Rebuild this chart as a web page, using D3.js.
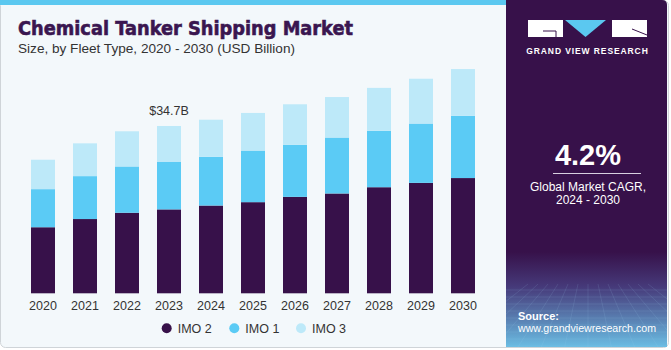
<!DOCTYPE html>
<html>
<head>
<meta charset="utf-8">
<script src="https://cdn.jsdelivr.net/npm/d3@7"></script>
<style>
  html, body { margin: 0; padding: 0; background: #fff; }
  svg { display: block; font-family: "Liberation Sans", Arial, sans-serif; }
</style>
</head>
<body>
<div id="chart"></div>
<script>
// ---- data ----
const years = ["2020","2021","2022","2023","2024","2025","2026","2027","2028","2029","2030"];
const imo2 = [13.7, 15.4, 16.7, 17.4, 18.2, 18.9, 20.0, 20.7, 22.0, 22.9, 23.9];
const imo1 = [7.9, 8.9, 9.6, 9.9, 10.1, 10.7, 10.8, 11.6, 11.7, 12.3, 12.9];
const imo3 = [6.1, 6.8, 7.3, 7.4, 7.7, 7.8, 8.4, 8.4, 8.9, 9.3, 9.7];
const seriesNames = ["IMO 2", "IMO 1", "IMO 3"];
const seriesColors = ["#37114a", "#5bcbf5", "#bde9f9"];
const callout = { year: "2023", text: "$34.7B" };

const W = 671, H = 350;
const svg = d3.select("#chart").append("svg").attr("width", W).attr("height", H);

// background card
svg.append("rect").attr("x", 0.5).attr("y", 0.5).attr("width", 668).attr("height", 347)
  .attr("rx", 5).attr("fill", "#f3f8fb").attr("stroke", "#cfd4d8");
svg.append("rect").attr("x", 0).attr("y", 0).attr("width", 510).attr("height", 5).attr("fill", "#5bc8f0");

// titles
svg.append("text").attr("x", 18).attr("y", 35)
  .attr("font-family", "DejaVu Sans, sans-serif")
  .attr("font-size", 19).attr("font-weight", 700).attr("fill", "#3a1650")
  .attr("stroke", "#3a1650").attr("stroke-width", 0.6)
  .attr("textLength", 335).attr("lengthAdjust", "spacingAndGlyphs")
  .text("Chemical Tanker Shipping Market");
svg.append("text").attr("x", 18).attr("y", 53)
  .attr("font-size", 13).attr("fill", "#333")
  .attr("textLength", 277).attr("lengthAdjust", "spacingAndGlyphs")
  .text("Size, by Fleet Type, 2020 - 2030 (USD Billion)");

// ---- scales ----
const x = d3.scaleBand().domain(years).range([22, 484]).paddingInner(0.4286).paddingOuter(0.2143);
const y = d3.scaleLinear().domain([0, 50]).range([293.3, 52.2]);

const table = years.map((yr, i) => ({ year: yr, "IMO 2": imo2[i], "IMO 1": imo1[i], "IMO 3": imo3[i] }));
const stacked = d3.stack().keys(seriesNames)(table);

const g = svg.append("g");
g.selectAll("g.layer").data(stacked).join("g")
  .attr("class", "layer")
  .attr("fill", (d, i) => seriesColors[i])
  .selectAll("rect").data(d => d).join("rect")
  .attr("x", d => x(d.data.year))
  .attr("width", x.bandwidth())
  .attr("y", d => y(d[1]))
  .attr("height", d => y(d[0]) - y(d[1]));

// year axis
const xAxis = svg.append("g").attr("transform", "translate(0,293.3)")
  .call(d3.axisBottom(x).tickSize(0).tickPadding(5));
xAxis.select(".domain").remove();
xAxis.selectAll("text").attr("font-size", 12.5).attr("fill", "#333")
  .attr("font-family", "Liberation Sans, Arial, sans-serif").attr("dy", "0.92em");

// callout
const ci = years.indexOf(callout.year);
svg.append("text")
  .attr("x", x(callout.year) + x.bandwidth() / 2)
  .attr("y", y(imo2[ci] + imo1[ci] + imo3[ci]) - 11)
  .attr("text-anchor", "middle").attr("font-size", 12.5).attr("fill", "#333")
  .text(callout.text);

// legend
const legendX = [166.7, 234.3, 301];
const leg = svg.append("g").selectAll("g").data(seriesNames).join("g")
  .attr("transform", (d, i) => `translate(${legendX[i]},328.3)`);
leg.append("circle").attr("r", 5).attr("fill", (d, i) => seriesColors[i]);
leg.append("text").attr("x", 11).attr("y", 4.5).attr("font-size", 12.5).attr("fill", "#333").text(d => d);

// ---- right panel ----
const defs = svg.append("defs");
const grad = defs.append("linearGradient").attr("id", "pg").attr("x1", 0).attr("y1", 0).attr("x2", 0).attr("y2", 1);
grad.append("stop").attr("offset", "0").attr("stop-color", "#37114a");
grad.append("stop").attr("offset", "0.72").attr("stop-color", "#37114a");
grad.append("stop").attr("offset", "0.82").attr("stop-color", "#463a7a");
grad.append("stop").attr("offset", "1").attr("stop-color", "#6cc3e8");
const clip = defs.append("clipPath").attr("id", "pc");
clip.append("path").attr("d", "M506,0 H662 Q667,0 667,5 V347 H506 Z");

const panel = svg.append("g").attr("clip-path", "url(#pc)");
panel.append("rect").attr("x", 506).attr("y", 0).attr("width", 165).attr("height", 350).attr("fill", "url(#pg)");

// faint grid hint in lower panel
const gridG = panel.append("g").attr("stroke", "#9fd3ef").attr("stroke-opacity", 0.22).attr("stroke-width", 0.6);
d3.range(290, 350, 7).forEach(yy => gridG.append("line").attr("x1", 506).attr("x2", 671).attr("y1", yy).attr("y2", yy));
d3.range(-6, 7).forEach(k => gridG.append("line")
  .attr("x1", 588 + k * 10).attr("y1", 284).attr("x2", 588 + k * 24).attr("y2", 350));

// logo
const logo = svg.append("g");
logo.append("rect").attr("x", 528).attr("y", 20).attr("width", 35).attr("height", 17).attr("fill", "#fff");
logo.append("path").attr("d", "M565,20 H606 L585.5,37 Z").attr("fill", "#5bc8f0");
logo.append("rect").attr("x", 612).attr("y", 20).attr("width", 35).attr("height", 17).attr("fill", "#fff");
logo.append("path").attr("d", "M543,31 H556 V37").attr("stroke", "#37114a").attr("stroke-width", 1).attr("fill", "none");
logo.append("path").attr("d", "M632,29 L647,35").attr("stroke", "#37114a").attr("stroke-width", 1).attr("fill", "none");
svg.append("text").attr("x", 587.5).attr("y", 54).attr("text-anchor", "middle")
  .attr("font-size", 8.5).attr("font-weight", 700).attr("fill", "#fff").attr("letter-spacing", 0.9)
  .text("GRAND VIEW RESEARCH");

svg.append("text").attr("x", 588).attr("y", 165).attr("text-anchor", "middle")
  .attr("font-size", 29).attr("font-weight", 700).attr("fill", "#fff").text("4.2%");
svg.append("line").attr("x1", 553).attr("x2", 641).attr("y1", 173.5).attr("y2", 173.5)
  .attr("stroke", "#d8d0e0").attr("stroke-width", 1);
svg.append("text").attr("x", 588).attr("y", 191).attr("text-anchor", "middle")
  .attr("font-size", 12).attr("fill", "#fff").text("Global Market CAGR,");
svg.append("text").attr("x", 588).attr("y", 204).attr("text-anchor", "middle")
  .attr("font-size", 12).attr("fill", "#fff").text("2024 - 2030");

svg.append("text").attr("x", 518).attr("y", 320).attr("font-size", 11).attr("font-weight", 700)
  .attr("fill", "#fff").text("Source:");
svg.append("text").attr("x", 518).attr("y", 332).attr("font-size", 11)
  .attr("fill", "#fff").attr("textLength", 138).attr("lengthAdjust", "spacingAndGlyphs")
  .text("www.grandviewresearch.com");
</script>
</body>
</html>
